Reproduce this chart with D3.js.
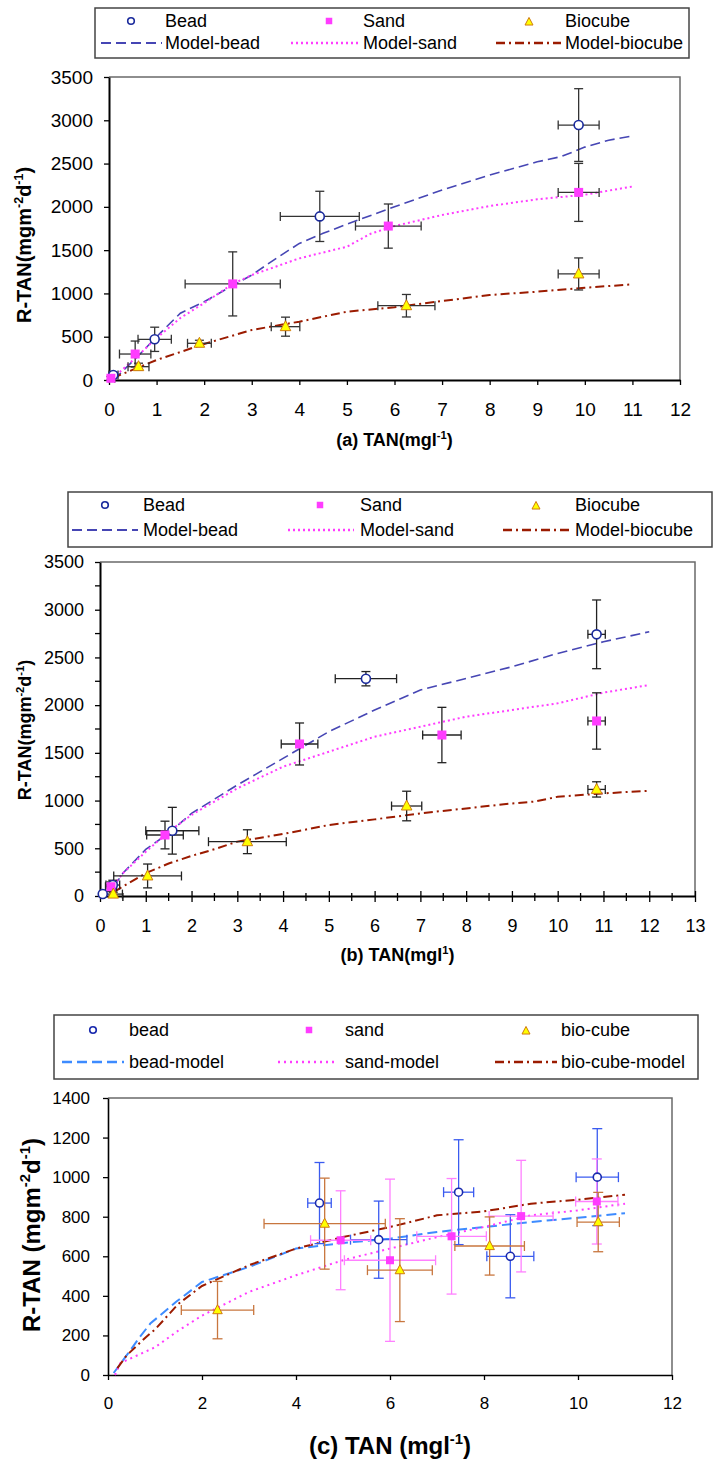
<!DOCTYPE html>
<html>
<head>
<meta charset="utf-8">
<script src="https://cdn.jsdelivr.net/npm/d3@7"></script>
<style>
  body { margin: 0; background: #fff; }
  svg { display: block; }
  text { font-family: Arial, "Liberation Sans", sans-serif; fill: #000; }
</style>
</head>
<body>
<script>
// ---- panel (a) ----
const beadA = [
  {x: 0.09, y: 58, ex: 0.1, ey: 30},
  {x: 0.96, y: 470, ex: 0.35, ey: 140},
  {x: 4.43, y: 1890, ex: 0.83, ey: 290},
  {x: 9.87, y: 2945, ex: 0.43, ey: 420}
];
const sandA = [
  {x: 0.04, y: 20, ex: 0.08, ey: 20},
  {x: 0.55, y: 300, ex: 0.33, ey: 150},
  {x: 2.6, y: 1110, ex: 1.0, ey: 370},
  {x: 5.87, y: 1778, ex: 0.69, ey: 255},
  {x: 9.87, y: 2167, ex: 0.43, ey: 335}
];
const bioA = [
  {x: 0.62, y: 154, ex: 0.22, ey: 40},
  {x: 1.9, y: 424, ex: 0.25, ey: 35},
  {x: 3.71, y: 616, ex: 0.3, ey: 110},
  {x: 6.25, y: 858, ex: 0.6, ey: 130},
  {x: 9.87, y: 1225, ex: 0.43, ey: 185}
];
const modelBeadA = [[0.1,0],[0.3,110],[0.6,270],[1,500],[1.5,772],[2,904],[2.5,1060],[3,1212],[3.5,1400],[4,1578],[4.5,1694],[5,1800],[6,2001],[7,2194],[8,2367],[9,2520],[9.5,2580],[10,2690],[10.5,2770],[11,2818]];
const modelSandA = [[0.1,0],[0.2,80],[0.6,277],[1,485],[1.5,716],[2,889],[2.6,1110],[3,1212],[4,1405],[5,1540],[5.5,1690],[6,1778],[7,1906],[8,2010],[9,2087],[10,2140],[11,2235]];
const modelBioA = [[0.1,0],[0.2,50],[0.4,96],[1,231],[2,416],[3,578],[4,674],[5,789],[6,840],[7,912],[8,982],[9,1020],[10,1066],[11,1105]];

// ---- panel (b) ----
const beadB = [
  {x: 0.06, y: 21, ex: 0, ey: 0},
  {x: 0.28, y: 115, ex: 0.15, ey: 50},
  {x: 1.58, y: 684, ex: 0.58, ey: 245},
  {x: 5.81, y: 2277, ex: 0.67, ey: 75},
  {x: 10.85, y: 2742, ex: 0.19, ey: 360}
];
const sandB = [
  {x: 0.24, y: 97, ex: 0.12, ey: 50},
  {x: 1.42, y: 639, ex: 0.4, ey: 145},
  {x: 4.36, y: 1593, ex: 0.4, ey: 220},
  {x: 7.47, y: 1687, ex: 0.42, ey: 290},
  {x: 10.85, y: 1834, ex: 0.19, ey: 295}
];
const bioB = [
  {x: 0.29, y: 20, ex: 0.2, ey: 20},
  {x: 1.04, y: 210, ex: 0.74, ey: 125},
  {x: 3.22, y: 569, ex: 0.85, ey: 125},
  {x: 6.7, y: 943, ex: 0.33, ey: 155},
  {x: 10.85, y: 1117, ex: 0.19, ey: 80}
];
const modelBeadB = [[0.3,98],[0.5,238],[1,489],[1.5,657],[2,866],[3,1163],[4,1442],[5,1722],[6,1949],[7,2159],[8,2280],[9,2402],[10,2542],[11,2664],[12,2769]];
const modelSandB = [[0.3,115],[0.5,238],[1,463],[1.5,674],[2,849],[3,1128],[4,1355],[5,1512],[6,1669],[7,1774],[8,1879],[9,1949],[10,2019],[11,2131],[12,2211]];
const modelBioB = [[0.3,40],[0.5,100],[1,240],[1.5,340],[2,420],[2.5,490],[3,570],[4,650],[5,744],[6,803],[7,866],[8,918],[9,970],[9.5,990],[10,1040],[11,1075],[12,1103]];

// ---- panel (c) ----
const beadC = [
  {x: 4.5, y: 869, ex: 0.25, ey: 205},
  {x: 5.76, y: 684, ex: 0.6, ey: 195},
  {x: 7.46, y: 924, ex: 0.32, ey: 265},
  {x: 8.56, y: 600, ex: 0.5, ey: 210},
  {x: 10.41, y: 1000, ex: 0.45, ey: 245}
];
const sandC = [
  {x: 4.95, y: 681, ex: 0.64, ey: 250},
  {x: 6.0, y: 580, ex: 0.97, ey: 410},
  {x: 7.31, y: 701, ex: 0.74, ey: 292},
  {x: 8.79, y: 803, ex: 0.68, ey: 282},
  {x: 10.4, y: 877, ex: 0.45, ey: 215}
];
const bioC = [
  {x: 2.33, y: 328, ex: 0.77, ey: 145},
  {x: 4.61, y: 765, ex: 1.29, ey: 230},
  {x: 6.21, y: 530, ex: 0.69, ey: 260},
  {x: 8.12, y: 652, ex: 0.74, ey: 147},
  {x: 10.43, y: 773, ex: 0.45, ey: 150}
];
const modelBeadC = [[0.12,10],[0.4,100],[0.68,193],[0.9,260],[1.45,370],[2,470],[3,546],[4,639],[5,667],[6,689],[7,723],[8,748],[9,773],[10,795],[11,818]];
const modelSandC = [[0.15,0],[0.26,60],[1,140],[1.5,225],[2,300],[3,420],[4,504],[5,580],[6,639],[7,697],[8,748],[9,807],[10,832],[11,866]];
const modelBioC = [[0.2,35],[0.4,100],[0.8,190],[1,230],[1.5,360],[2,450],[3,555],[4,639],[5,697],[6,748],[7,807],[8,827],[9,866],[10,886],[11,911]];

const legendA = ["Bead", "Sand", "Biocube", "Model-bead", "Model-sand", "Model-biocube"];
const legendC = ["bead", "sand", "bio-cube", "bead-model", "sand-model", "bio-cube-model"];

const svg = d3.select('body').append('svg')
  .attr('width', 714)
  .attr('height', 1460);

// marker painters
function circleMark(g, cx, cy, r, col) {
  g.append('circle').attr('cx', cx).attr('cy', cy).attr('r', r)
    .attr('fill', 'white').attr('stroke', col).attr('stroke-width', 1.6);
}
function squareMark(g, cx, cy, s, col) {
  g.append('rect').attr('x', cx - s/2).attr('y', cy - s/2).attr('width', s).attr('height', s)
    .attr('fill', col);
}
function triMark(g, cx, cy, s) {
  const h = s * 0.95;
  g.append('path')
    .attr('d', `M${cx},${cy - h*0.6}L${cx + s/2},${cy + h*0.4}L${cx - s/2},${cy + h*0.4}Z`)
    .attr('fill', '#FFFF00').attr('stroke', '#D07A10').attr('stroke-width', 1);
}

// text with superscripts: parts = [[str, sup?], ...]
function supText(t, parts, fs) {
  parts.forEach(([s, sup], i) => {
    const prevSup = i > 0 && parts[i-1][1];
    let dy = 0;
    if (sup && !prevSup) dy = -fs * 0.4;
    if (!sup && prevSup) dy = fs * 0.4;
    t.append('tspan').attr('dy', dy).style('font-size', (sup ? fs * 0.62 : fs) + 'px').text(s);
  });
}

function errorBars(g, x, y, data, col, cap) {
  data.forEach(d => {
    if (d.ey > 0) {
      const y1 = y(d.y - d.ey), y2 = y(d.y + d.ey), cx = x(d.x);
      g.append('line').attr('x1', cx).attr('x2', cx).attr('y1', y1).attr('y2', y2);
      g.append('line').attr('x1', cx - cap).attr('x2', cx + cap).attr('y1', y1).attr('y2', y1);
      g.append('line').attr('x1', cx - cap).attr('x2', cx + cap).attr('y1', y2).attr('y2', y2);
    }
    if (d.ex > 0) {
      const x1 = x(Math.max(0, d.x - d.ex)), x2 = x(d.x + d.ex), cy = y(d.y);
      g.append('line').attr('x1', x1).attr('x2', x2).attr('y1', cy).attr('y2', cy);
      g.append('line').attr('x1', x1).attr('x2', x1).attr('y1', cy - cap).attr('y2', cy + cap);
      g.append('line').attr('x1', x2).attr('x2', x2).attr('y1', cy - cap).attr('y2', cy + cap);
    }
  });
  g.selectAll('line').attr('stroke', col).attr('stroke-width', 1.3);
}

function drawPanel(p) {
  const x = d3.scaleLinear().domain([0, p.xMax]).range([p.left, p.right]);
  const y = d3.scaleLinear().domain([0, p.yMax]).range([p.bottom, p.top]);
  const g = svg.append('g');

  // plot frame (top + right)
  g.append('path')
    .attr('d', `M${p.left},${p.top}H${p.right}V${p.bottom}`)
    .attr('fill', 'none').attr('stroke', '#6a6a6a').attr('stroke-width', 1.5);

  // minor ticks
  if (p.minor) {
    g.append('g').selectAll('line')
      .data(d3.range(p.yStep / 2, p.yMax, p.yStep))
      .join('line')
      .attr('x1', p.left - 5).attr('x2', p.left)
      .attr('y1', d => y(d)).attr('y2', d => y(d))
      .attr('stroke', 'black').attr('stroke-width', 1.3);
    g.append('g').selectAll('line')
      .data(d3.range(0.5, p.xMax, 1))
      .join('line')
      .attr('x1', d => x(d)).attr('x2', d => x(d))
      .attr('y1', p.bottom - 3).attr('y2', p.bottom + 5)
      .attr('stroke', 'black').attr('stroke-width', 1.3);
  }

  const fmt = d3.format('d');
  const yAxis = g.append('g')
    .attr('transform', `translate(${p.left},0)`)
    .call(d3.axisLeft(y).tickValues(d3.range(0, p.yMax + 1, p.yStep)).tickFormat(fmt)
      .tickSize(5).tickSizeOuter(0).tickPadding(p.yPad));
  const xAxis = g.append('g')
    .attr('transform', `translate(0,${p.bottom})`)
    .call(d3.axisBottom(x).tickValues(d3.range(0, p.xMax + 0.01, p.xStep)).tickFormat(fmt)
      .tickSize(5).tickSizeOuter(0).tickPadding(p.xPad));
  if (p.minor) xAxis.selectAll('.tick line').attr('y1', -5).attr('y2', 6);
  [yAxis, xAxis].forEach(a => {
    a.select('.domain').attr('stroke', 'black').attr('stroke-width', p.axisW);
    a.selectAll('.tick line').attr('stroke', 'black').attr('stroke-width', 1.3);
    a.selectAll('.tick text').style('font-size', p.tickFs + 'px')
      .style('font-family', 'Arial, "Liberation Sans", sans-serif');
  });

  // model curves
  const line = d3.line().x(d => x(d[0])).y(d => y(d[1]));
  p.models.forEach(m => {
    g.append('path').datum(m.data)
      .attr('d', line)
      .attr('fill', 'none')
      .attr('stroke', m.color)
      .attr('stroke-width', m.width)
      .attr('stroke-dasharray', m.dash);
  });

  // error bars then markers
  p.series.forEach(s => errorBars(g.append('g'), x, y, s.data, s.errColor, p.cap));
  p.series.forEach(s => {
    s.data.forEach(d => {
      if (s.shape === 'circle') circleMark(g, x(d.x), y(d.y), p.ms / 2, s.color);
      else if (s.shape === 'square') squareMark(g, x(d.x), y(d.y), p.ms, s.color);
      else triMark(g, x(d.x), y(d.y), p.ms + 1.5);
    });
  });

  // axis titles
  const xt = g.append('text')
    .attr('x', (p.left + p.right) / 2).attr('y', p.xTitleY)
    .attr('text-anchor', 'middle')
    .style('font-weight', 'bold');
  supText(xt, p.xTitle, p.titleFs);
  const yt = g.append('text')
    .attr('transform', `translate(${p.yTitleX},${p.yTitleY}) rotate(-90)`)
    .attr('text-anchor', 'middle')
    .style('font-weight', 'bold');
  supText(yt, p.yTitle, p.yTitleFs);

  // legend
  const L = p.legend;
  const lg = svg.append('g');
  lg.append('rect')
    .attr('x', L.x0).attr('y', L.y0).attr('width', L.x1 - L.x0).attr('height', L.y1 - L.y0)
    .attr('fill', 'white').attr('stroke', '#444').attr('stroke-width', 1.5);
  p.series.forEach((s, i) => {
    if (s.shape === 'circle') circleMark(lg, L.mx[i], L.row1, 3.3, s.color);
    else if (s.shape === 'square') squareMark(lg, L.mx[i], L.row1, 6.5, s.color);
    else triMark(lg, L.mx[i], L.row1 + 1, 8);
    lg.append('text').attr('x', L.tx[i]).attr('y', L.row1).attr('dy', '0.35em')
      .style('font-size', L.fs + 'px').text(L.names[i]);
    const m = p.models[i];
    lg.append('line')
      .attr('x1', L.lx[i][0]).attr('x2', L.lx[i][1])
      .attr('y1', L.row2).attr('y2', L.row2)
      .attr('stroke', m.color).attr('stroke-width', m.width + 0.3)
      .attr('stroke-dasharray', m.dash);
    lg.append('text').attr('x', L.tx[i]).attr('y', L.row2).attr('dy', '0.35em')
      .style('font-size', L.fs + 'px').text(L.names[i + 3]);
  });
}

const blueDark = '#1A2A9C';
const pink = '#FF3CFF';
const modelBlue = '#4646B4';
const modelRed = '#9B1B00';

drawPanel({
  left: 109, right: 680, top: 77, bottom: 380,
  xMax: 12, xStep: 1, yMax: 3500, yStep: 500, minor: false,
  yPad: 11, xPad: 18, tickFs: 19, axisW: 2, cap: 4.5, ms: 9,
  series: [
    {data: beadA, shape: 'circle', color: blueDark, errColor: '#333'},
    {data: sandA, shape: 'square', color: pink, errColor: '#333'},
    {data: bioA, shape: 'tri', color: '#FFFF00', errColor: '#333'}
  ],
  models: [
    {data: modelBeadA, color: modelBlue, width: 1.6, dash: '10,5'},
    {data: modelSandA, color: pink, width: 2, dash: '2,3'},
    {data: modelBioA, color: modelRed, width: 2, dash: '9,4,2,4'}
  ],
  xTitle: [['(a) TAN(mgl', false], ['-1', true], [')', false]], xTitleY: 446, titleFs: 18,
  yTitle: [['R-TAN(mgm', false], ['-2', true], ['d', false], ['-1', true], [')', false]],
  yTitleX: 31, yTitleY: 245, yTitleFs: 20,
  legend: {
    x0: 95, x1: 689, y0: 8, y1: 58, row1: 21, row2: 43, fs: 18, names: legendA,
    mx: [131, 329, 529], tx: [165, 363, 565], lx: [[101, 162], [291, 358], [496, 561]]
  }
});

drawPanel({
  left: 100, right: 695, top: 562, bottom: 896,
  xMax: 13, xStep: 1, yMax: 3500, yStep: 500, minor: true,
  yPad: 11, xPad: 18, tickFs: 18, axisW: 2, cap: 4.5, ms: 9,
  series: [
    {data: beadB, shape: 'circle', color: blueDark, errColor: '#222'},
    {data: sandB, shape: 'square', color: pink, errColor: '#222'},
    {data: bioB, shape: 'tri', color: '#FFFF00', errColor: '#222'}
  ],
  models: [
    {data: modelBeadB, color: modelBlue, width: 1.6, dash: '10,5'},
    {data: modelSandB, color: pink, width: 2, dash: '2,3'},
    {data: modelBioB, color: modelRed, width: 2, dash: '9,4,2,4'}
  ],
  xTitle: [['(b) TAN(mgl', false], ['1', true], [')', false]], xTitleY: 961, titleFs: 18,
  yTitle: [['R-TAN(mgm', false], ['-2', true], ['d', false], ['-1', true], [')', false]],
  yTitleX: 31, yTitleY: 730, yTitleFs: 18,
  legend: {
    x0: 68, x1: 712, y0: 492, y1: 547, row1: 505, row2: 530, fs: 18, names: legendA,
    mx: [105, 320, 536], tx: [143, 360, 575], lx: [[72, 138], [288, 354], [503, 569]]
  }
});

drawPanel({
  left: 108, right: 672, top: 1098, bottom: 1375,
  xMax: 12, xStep: 2, yMax: 1400, yStep: 200, minor: false,
  yPad: 13, xPad: 17, tickFs: 17, axisW: 1.6, cap: 5, ms: 8,
  series: [
    {data: beadC, shape: 'circle', color: '#1A2AAE', errColor: '#3A5BF0'},
    {data: sandC, shape: 'square', color: pink, errColor: '#FF80FF'},
    {data: bioC, shape: 'tri', color: '#FFFF00', errColor: '#C8763E'}
  ],
  models: [
    {data: modelBeadC, color: '#3D8BFF', width: 2, dash: '10,5'},
    {data: modelSandC, color: pink, width: 2, dash: '2,4'},
    {data: modelBioC, color: modelRed, width: 2, dash: '9,4,2,4'}
  ],
  xTitle: [['(c) TAN (mgl', false], ['-1', true], [')', false]], xTitleY: 1454, titleFs: 24,
  yTitle: [['R-TAN (mgm', false], ['-2', true], ['d', false], ['-1', true], [')', false]],
  yTitleX: 40, yTitleY: 1235, yTitleFs: 24,
  legend: {
    x0: 54, x1: 698, y0: 1015, y1: 1079, row1: 1030, row2: 1062, fs: 18, names: legendC,
    mx: [93, 309, 526], tx: [129, 345, 561], lx: [[62, 124], [278, 338], [495, 557]]
  }
});
</script>
</body>
</html>
